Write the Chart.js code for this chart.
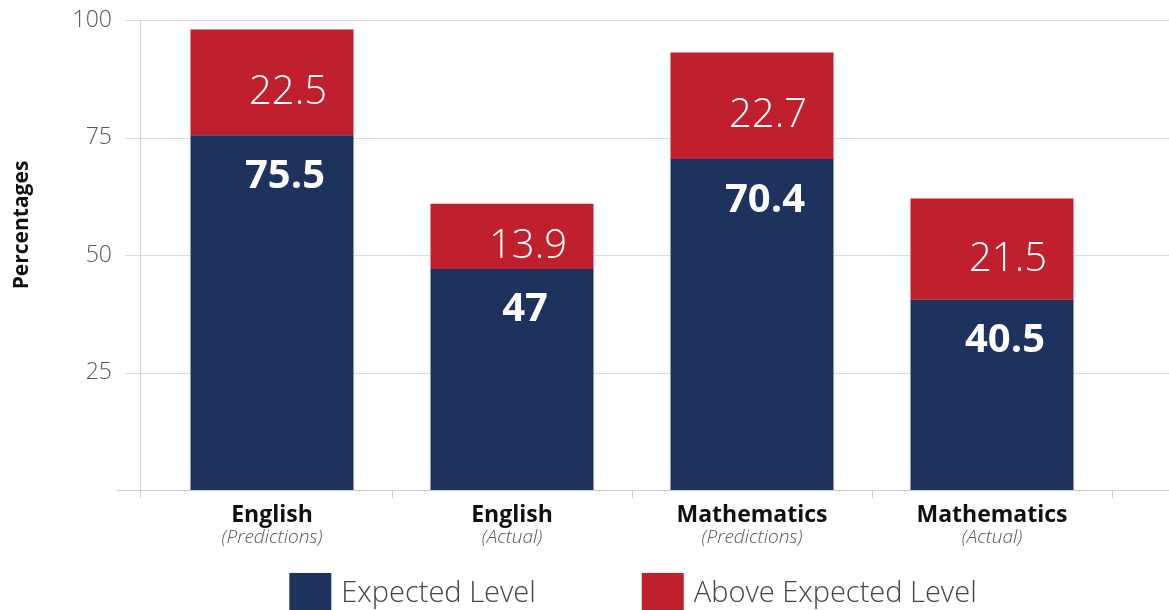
<!DOCTYPE html>
<html>
<head>
<meta charset="utf-8">
<script src="https://cdn.jsdelivr.net/npm/chart.js@4"></script>
<style>
  html, body { margin: 0; padding: 0; background: #fff; }
  #wrap { width: 1169px; height: 610px; }
</style>
</head>
<body>
<div id="wrap"><canvas id="chart" width="1169" height="610"></canvas></div>
<script>
// chart values
const categories = ['English', 'English', 'Mathematics', 'Mathematics'];
const subLabels = ['(Predictions)', '(Actual)', '(Predictions)', '(Actual)'];
const expectedLevel = [75.5, 47, 70.4, 40.5];
const aboveExpected = [22.5, 13.9, 22.7, 21.5];
const yTicks = [25, 50, 75, 100];
const seriesNames = ['Expected Level', 'Above Expected Level'];

const BLUE = '#1e325e';
const RED = '#c01f2d';
const FONT = '"Open Sans", "Noto Sans", sans-serif';

// grid lines, axis lines, y title
const framePlugin = {
    id: 'frame',
    beforeDatasetsDraw(chart) {
        const { ctx, chartArea, scales } = chart;
        const y = scales.y;
        ctx.save();
        ctx.strokeStyle = '#dcdcdc';
        ctx.lineWidth = 1;
        yTicks.forEach(v => {
            const py = Math.round(y.getPixelForValue(v)) + 0.5;
            ctx.beginPath();
            ctx.moveTo(chartArea.left - 27, py);
            ctx.lineTo(chart.width, py);
            ctx.stroke();
        });
        // y axis line
        const ax = chartArea.left - 12 + 0.5;
        ctx.strokeStyle = '#cfcfcf';
        ctx.beginPath();
        ctx.moveTo(ax, chartArea.top);
        ctx.lineTo(ax, chartArea.bottom + 8);
        ctx.stroke();
        // x axis line
        const by = Math.round(chartArea.bottom) + 0.5;
        ctx.beginPath();
        ctx.moveTo(chartArea.left - 35, by);
        ctx.lineTo(chart.width, by);
        ctx.stroke();
        // y title
        ctx.translate(22, 225);
        ctx.rotate(-Math.PI / 2);
        ctx.fillStyle = '#111';
        ctx.font = 'bold 21px ' + FONT;
        ctx.textAlign = 'center';
        ctx.textBaseline = 'middle';
        ctx.fillText('Percentages', 0, 0);
        ctx.restore();
    }
};

// value labels, category labels, legend
const labelPlugin = {
    id: 'labels',
    afterDatasetsDraw(chart) {
        const { ctx, chartArea, scales } = chart;
        ctx.save();
        ctx.fillStyle = '#fff';
        ctx.textAlign = 'center';
        ctx.textBaseline = 'middle';

        chart.getDatasetMeta(0).data.forEach((bar, i) => {
            ctx.font = 'bold 40px ' + FONT;
            ctx.fillText(String(expectedLevel[i]), bar.x + 13, bar.y + 41);
        });
        chart.getDatasetMeta(1).data.forEach((bar, i) => {
            ctx.font = '300 40px ' + FONT;
            ctx.fillText(String(aboveExpected[i]), bar.x + 16, (bar.y + bar.base) / 2 + 10);
        });

        // category labels
        categories.forEach((c, i) => {
            const px = scales.x.getPixelForValue(i);
            ctx.fillStyle = '#111';
            ctx.font = 'bold 23px ' + FONT;
            ctx.fillText(c, px, chartArea.bottom + 25);
            ctx.fillStyle = '#555';
            ctx.font = 'italic 300 19px ' + FONT;
            ctx.fillText(subLabels[i], px, chartArea.bottom + 48);
        });

        // legend
        ctx.font = '300 29px ' + FONT;
        const box = 42, gap = 10, between = 106;
        const w1 = ctx.measureText(seriesNames[0]).width;
        const w2 = ctx.measureText(seriesNames[1]).width;
        const total = box + gap + w1 + between + box + gap + w2;
        let x0 = (chartArea.left + chartArea.right) / 2 - total / 2 + 1;
        const ly = 573;
        ctx.textAlign = 'left';
        [[BLUE, seriesNames[0], w1], [RED, seriesNames[1], w2]].forEach(([col, name, w]) => {
            ctx.fillStyle = col;
            ctx.fillRect(x0, ly, box, 40);
            ctx.fillStyle = '#444';
            ctx.fillText(name, x0 + box + gap, ly + 21);
            x0 += box + gap + w + between;
        });
        ctx.restore();
    }
};

new Chart(document.getElementById('chart'), {
    type: 'bar',
    data: {
        labels: categories,
        datasets: [
            { label: seriesNames[0], data: expectedLevel, backgroundColor: BLUE },
            { label: seriesNames[1], data: aboveExpected, backgroundColor: RED }
        ]
    },
    options: {
        responsive: false,
        animation: false,
        layout: { padding: { top: 20, left: 0, right: 57, bottom: 0 } },
        datasets: {
            bar: { barPercentage: 1, categoryPercentage: 163 / 240 }
        },
        plugins: {
            legend: { display: false },
            tooltip: { enabled: false }
        },
        scales: {
            x: {
                stacked: true,
                offset: true,
                grid: {
                    offset: true,
                    drawOnChartArea: false,
                    tickLength: 8,
                    color: ctx => ctx.index === 0 ? 'rgba(0,0,0,0)' : '#cfcfcf'
                },
                border: { display: false },
                ticks: { display: false },
                afterFit: s => {
                    s.height = 120;
                    s.paddingTop = 0; s.paddingBottom = 0;
                    s.paddingLeft = 0; s.paddingRight = 0;
                }
            },
            y: {
                stacked: true,
                min: 0,
                max: 100,
                grid: { display: false },
                border: { display: false },
                ticks: {
                    stepSize: 25,
                    padding: 32,
                    color: '#555',
                    font: { family: FONT, size: 23, weight: '300' },
                    callback: v => yTicks.includes(v) ? String(v) : ''
                },
                afterFit: s => {
                    s.width = 152;
                    s.paddingTop = 0; s.paddingBottom = 0;
                }
            }
        }
    },
    plugins: [framePlugin, labelPlugin]
});
</script>
</body>
</html>
